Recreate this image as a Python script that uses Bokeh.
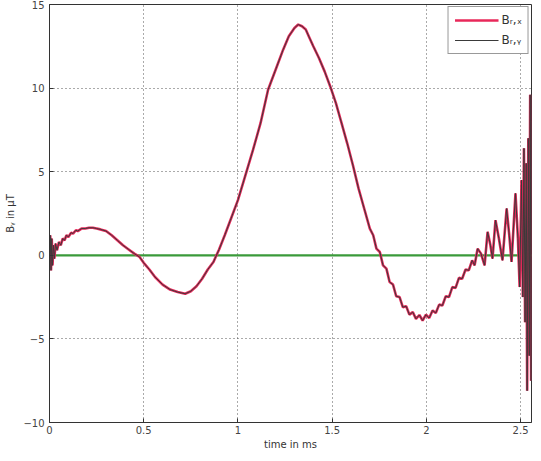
from bokeh.plotting import figure
from bokeh.models import Range1d, FixedTicker, Legend, LegendItem
from bokeh.embed import file_html
from bokeh.resources import INLINE

# time in ms
t_ms = [0.000, 0.004, 0.008, 0.012, 0.016, 0.021, 0.026, 0.032, 0.040, 0.050,
        0.060, 0.070, 0.080, 0.090, 0.100, 0.115, 0.125, 0.140, 0.150, 0.170,
        0.190, 0.210, 0.230, 0.250, 0.270, 0.300, 0.330, 0.360, 0.390, 0.420,
        0.450, 0.478, 0.500, 0.530, 0.560, 0.600, 0.640, 0.680, 0.720, 0.750,
        0.780, 0.810, 0.840, 0.870, 0.900, 0.930, 0.960, 1.000, 1.040, 1.080,
        1.120, 1.160, 1.200, 1.240, 1.270, 1.300, 1.320, 1.340, 1.360, 1.380,
        1.400, 1.430, 1.460, 1.490, 1.520, 1.550, 1.580, 1.610, 1.640, 1.670,
        1.700, 1.718, 1.735, 1.753, 1.770, 1.788, 1.805, 1.823, 1.840, 1.858,
        1.875, 1.893, 1.910, 1.928, 1.945, 1.963, 1.980, 1.998, 2.015, 2.033,
        2.050, 2.068, 2.085, 2.103, 2.120, 2.138, 2.155, 2.173, 2.190, 2.208,
        2.225, 2.243, 2.256, 2.272, 2.290, 2.309, 2.325, 2.340, 2.351, 2.367,
        2.385, 2.404, 2.426, 2.440, 2.452, 2.473, 2.486, 2.495, 2.505, 2.512,
        2.518, 2.524, 2.530, 2.535, 2.541, 2.546, 2.551, 2.556, 2.558]

# B_r,x in microtesla
b_rx = [0.0, 1.2, -0.9, 1.0, -0.6, 0.6, -0.2, 0.7, 0.3, 0.8,
        0.6, 1.0, 0.9, 1.2, 1.1, 1.35, 1.3, 1.5, 1.45, 1.6,
        1.6, 1.65, 1.65, 1.6, 1.55, 1.45, 1.2, 0.9, 0.6, 0.35,
        0.1, -0.1, -0.45, -0.85, -1.3, -1.75, -2.05, -2.2, -2.3, -2.15,
        -1.85, -1.4, -0.85, -0.4, 0.35, 1.2, 2.1, 3.3, 4.8, 6.3,
        7.9, 9.9, 11.1, 12.3, 13.1, 13.6, 13.8, 13.7, 13.5, 13.0,
        12.5, 11.8, 11.0, 10.1, 9.1, 7.9, 6.7, 5.4, 4.0, 2.8,
        1.6, 1.2, 0.4, 0.2, -0.6, -0.8, -1.6, -1.75, -2.45, -2.5,
        -3.1, -3.05, -3.55, -3.4, -3.8, -3.57, -3.9, -3.55, -3.75, -3.3,
        -3.45, -2.95, -3.0, -2.45, -2.5, -1.9, -1.95, -1.35, -1.4, -0.85,
        -0.9, -0.3, -0.6, 0.4, 0.1, -0.6, 1.4, 0.6, -0.2, 2.1,
        1.0, -0.3, 2.8, 1.2, -0.4, 3.7, 1.0, -1.9, 4.5, -2.5,
        6.4, -4.0, 5.5, -8.1, 7.0, -6.0, 9.6, -7.5, 8.0]

# B_r,y (overlaid, visually identical)
b_ry = list(b_rx)

# reference (zero) line
t_ref = [0.0, 2.56]
b_ref = [0.0, 0.0]

x_ticks = [0, 0.5, 1, 1.5, 2, 2.5]
y_ticks = [-10, -5, 0, 5, 10, 15]

p = figure(width=533, height=453, output_backend="svg", toolbar_location=None,
           x_range=Range1d(0, 2.558), y_range=Range1d(-10, 15),
           min_border_left=49, min_border_right=2, min_border_top=4,
           min_border_bottom=31)
p.background_fill_color = "white"
p.border_fill_color = "white"
p.outline_line_color = "#333333"
p.outline_line_width = 1

for ax in (p.xaxis, p.yaxis):
    ax.major_tick_in = 4
    ax.major_tick_out = 0
    ax.minor_tick_line_color = None
    ax.axis_line_color = "#333333"
    ax.major_tick_line_color = "#333333"
    ax.major_label_text_font = "DejaVu Sans"
    ax.major_label_text_font_size = "10px"
    ax.major_label_text_color = "#444444"
    ax.axis_label_text_font = "DejaVu Sans"
    ax.axis_label_text_font_size = "10px"
    ax.axis_label_text_font_style = "normal"
    ax.axis_label_text_color = "#333333"

p.xaxis.ticker = FixedTicker(ticks=x_ticks)
p.yaxis.ticker = FixedTicker(ticks=y_ticks)
p.xaxis.major_label_overrides = {0: "0", 0.5: "0.5", 1: "1", 1.5: "1.5", 2: "2", 2.5: "2.5"}
p.xaxis.axis_label = "time in ms"
p.yaxis.axis_label = "Bᵧ in µT"
p.xaxis.axis_label_standoff = 2
p.yaxis.axis_label_standoff = 4
p.xaxis.major_label_standoff = 3
p.yaxis.major_label_standoff = 5

for g in (p.xgrid, p.ygrid):
    g.grid_line_color = "#444444"
    g.grid_line_dash = "1 3"
    g.grid_line_width = 1
    g.grid_line_alpha = 0.9

r_ref = p.line(t_ref, b_ref, line_color="#3a9a3a", line_width=2.2)
r_x = p.line(t_ms, b_rx, line_color="#e8285a", line_width=2.6)
r_y = p.line(t_ms, b_ry, line_color="#3a3a3a", line_width=1.0)

legend = Legend(items=[LegendItem(label="Bᵣ,ₓ", renderers=[r_x]),
                       LegendItem(label="Bᵣ,ᵧ", renderers=[r_y])],
                location="top_right")
legend.border_line_color = "#333333"
legend.border_line_width = 1
legend.background_fill_color = "white"
legend.background_fill_alpha = 1.0
legend.label_text_font = "DejaVu Sans"
legend.label_text_font_size = "12px"
legend.label_text_color = "#333333"
legend.glyph_width = 44
legend.glyph_height = 14
legend.spacing = 6
legend.padding = 6
legend.margin = 2
legend.label_standoff = 3
p.add_layout(legend)

open("out.html", "w").write(file_html(p, INLINE))
